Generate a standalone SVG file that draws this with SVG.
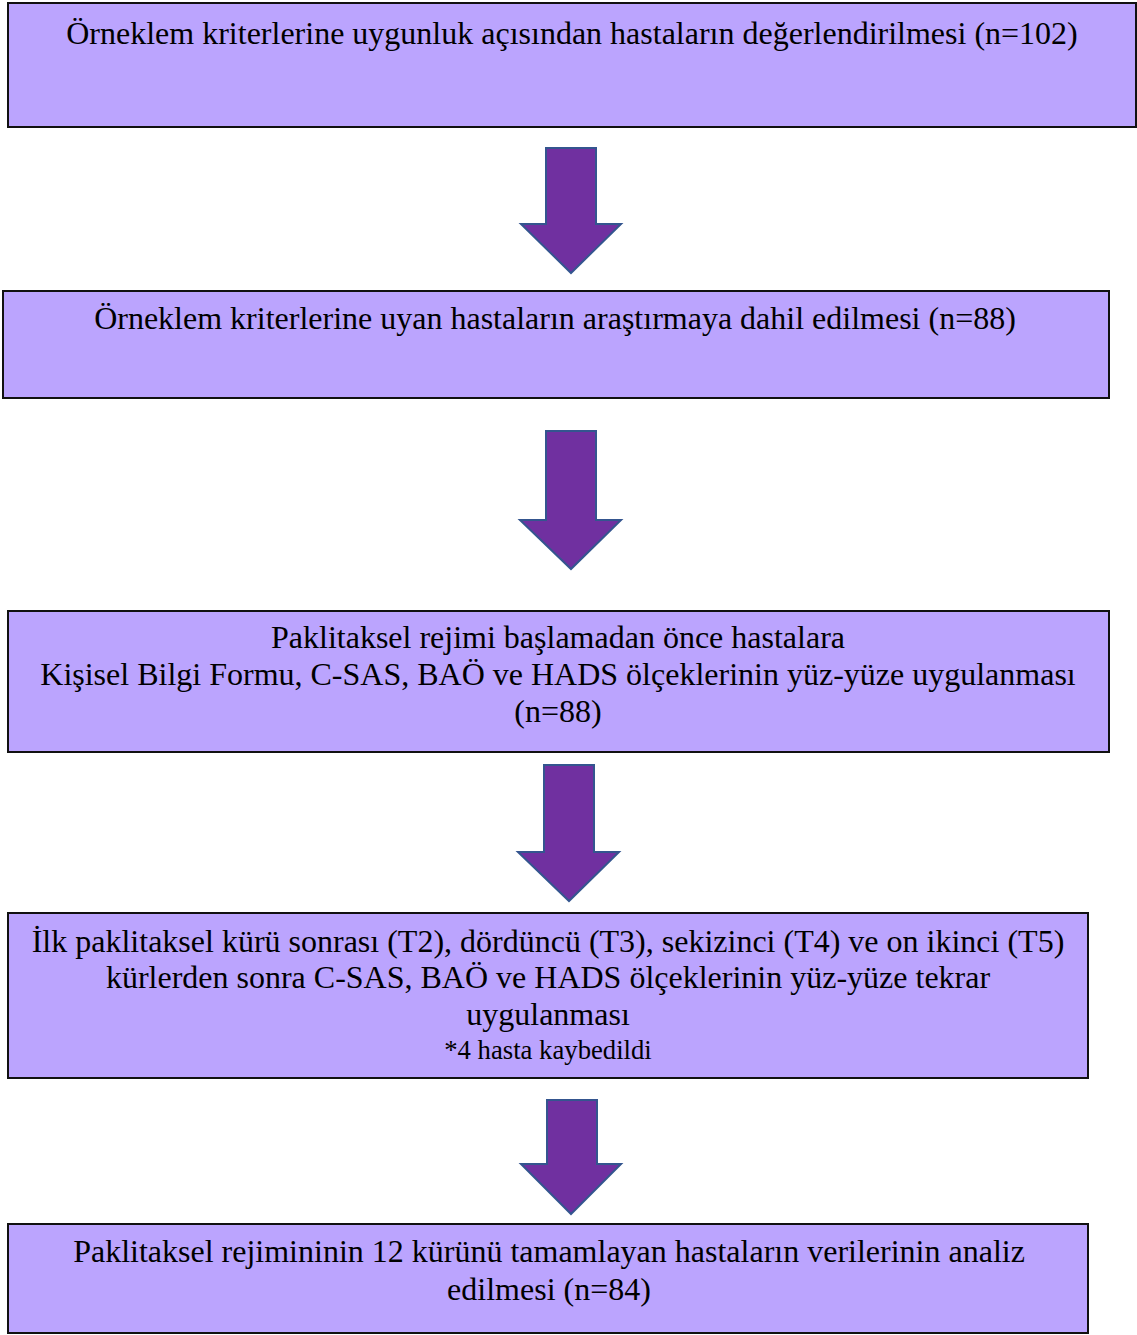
<svg xmlns="http://www.w3.org/2000/svg" width="1137" height="1335" viewBox="0 0 1137 1335">
<style>
.box{fill:#BBA4FE;stroke:#111;stroke-width:2}
.arr{fill:#7030A0;stroke:#34558F;stroke-width:2;stroke-linejoin:miter}
text{font-family:"Liberation Serif","Times New Roman",serif;font-size:32px;fill:#000;text-anchor:middle}
.sm{font-size:26.7px}
</style>
<rect width="1137" height="1335" fill="#fff"/>
<g id="node1">
<rect class="box" x="8" y="3" width="1128" height="124"/>
<text x="572" y="44">Örneklem kriterlerine uygunluk açısından hastaların değerlendirilmesi (n=102)</text>
</g>
<g id="node2">
<rect class="box" x="3" y="291" width="1106" height="107"/>
<text x="555" y="329">Örneklem kriterlerine uyan hastaların araştırmaya dahil edilmesi (n=88)</text>
</g>
<g id="node3">
<rect class="box" x="8" y="611" width="1101" height="141"/>
<text x="558" y="648">Paklitaksel rejimi başlamadan önce hastalara</text>
<text x="558" y="685">Kişisel Bilgi Formu, C-SAS, BAÖ ve HADS ölçeklerinin yüz-yüze uygulanması</text>
<text x="558" y="722">(n=88)</text>
</g>
<g id="node4">
<rect class="box" x="8" y="913" width="1080" height="165"/>
<text x="548" y="952">İlk paklitaksel kürü sonrası (T2), dördüncü (T3), sekizinci (T4) ve on ikinci (T5)</text>
<text x="548" y="988">kürlerden sonra C-SAS, BAÖ ve HADS ölçeklerinin yüz-yüze tekrar</text>
<text x="548" y="1025">uygulanması</text>
<text class="sm" x="548" y="1059">*4 hasta kaybedildi</text>
</g>
<g id="node5">
<rect class="box" x="8" y="1224" width="1080" height="109"/>
<text x="549" y="1262">Paklitaksel rejimininin 12 kürünü tamamlayan hastaların verilerinin analiz</text>
<text x="549" y="1300">edilmesi (n=84)</text>
</g>
<g id="connectors">
<polygon class="arr" points="546,148 596,148 596,224 621,224 571,273 521,224 546,224"/>
<polygon class="arr" points="546,431 596,431 596,520 621,520 571,569 520,520 546,520"/>
<polygon class="arr" points="544,765 594,765 594,852 619,852 569,901 518,852 544,852"/>
<polygon class="arr" points="547,1100 597,1100 597,1164 621,1164 571,1214 521,1164 547,1164"/>
</g>
</svg>
